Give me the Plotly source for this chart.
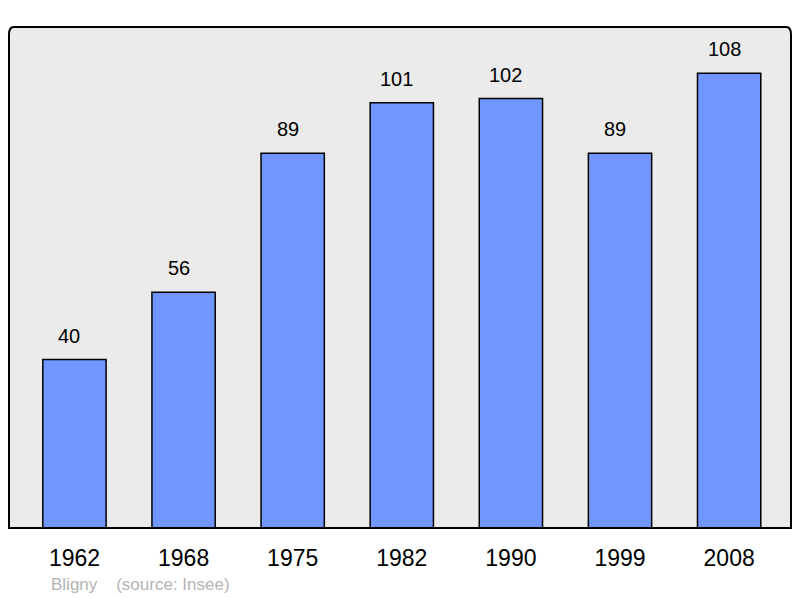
import plotly.graph_objects as go

years = ["1962", "1968", "1975", "1982", "1990", "1999", "2008"]
population = [40, 56, 89, 101, 102, 89, 108]
source_text = "Bligny    (source: Insee)"

xs = list(range(len(years)))
fig = go.Figure()
fig.add_trace(go.Bar(
    x=xs, y=population, width=0.58,
    marker=dict(color="#7097ff", line=dict(color="#000000", width=1.5)),
    hoverinfo="skip",
))
for x, v in zip(xs, population):
    fig.add_annotation(x=x, y=v, text=str(v), showarrow=False, yanchor="bottom",
                       yshift=11, xshift=-5,
                       font=dict(size=20, color="#000", family="Liberation Sans, Arial"))

fig.add_shape(type="path", xref="paper", yref="paper",
              path="M 0,0 L 0,0.985 Q 0,1 0.006,1 L 0.994,1 Q 1,1 1,0.985 L 1,0 Z",
              line=dict(color="#000", width=2), fillcolor="rgba(0,0,0,0)", layer="above")

fig.add_annotation(xref="paper", yref="paper", x=0.051, y=-0.112, xanchor="left", yanchor="middle",
                   text=source_text.replace(" ", "&nbsp;"), showarrow=False,
                   font=dict(size=17, color="#b4b4b4", family="Liberation Sans, Arial"))

fig.update_layout(
    width=800, height=598,
    margin=dict(l=9, r=9, t=27, b=70),
    paper_bgcolor="#ffffff", plot_bgcolor="#ebebeb",
    showlegend=False,
    xaxis=dict(range=[-0.6, 6.567], tickvals=xs, ticktext=years, showgrid=False,
               zeroline=False, ticks="", ticklabelstandoff=14,
               tickfont=dict(size=23, color="#000", family="Liberation Sans, Arial")),
    yaxis=dict(range=[0, 119], showgrid=False, zeroline=False, showticklabels=False, ticks=""),
    bargap=0,
)
fig.write_html("out.html", config={"displayModeBar": False, "staticPlot": True})
with open("out.html", "r", encoding="utf-8") as f:
    html = f.read()
html = html.replace("<head>", "<head><style>html,body{margin:0;padding:0;overflow:hidden;}</style>", 1)
with open("out.html", "w", encoding="utf-8") as f:
    f.write(html)
